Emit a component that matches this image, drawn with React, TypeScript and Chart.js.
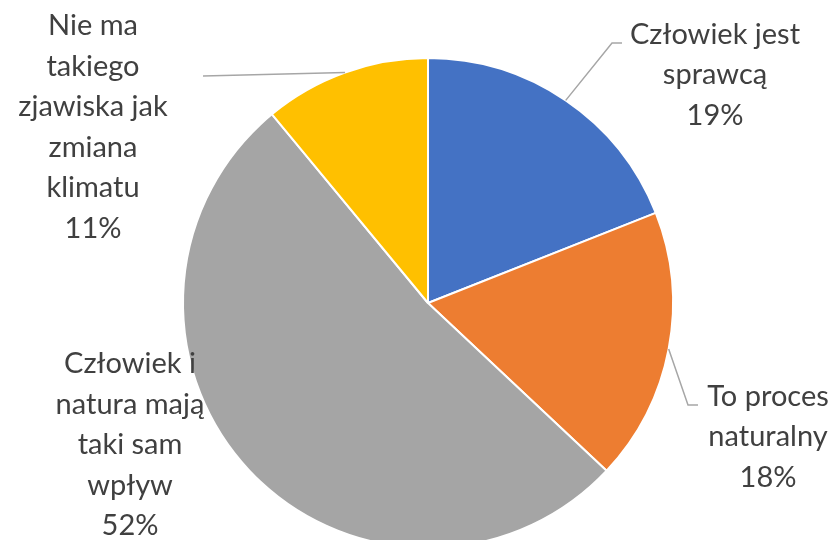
import React, { useEffect, useRef } from "react";
import { Chart, registerables } from "chart.js";

Chart.register(...registerables);

const categories = [
  "Człowiek jest sprawcą",
  "To proces naturalny",
  "Człowiek i natura mają taki sam wpływ",
  "Nie ma takiego zjawiska jak zmiana klimatu",
];
const values = [19, 18, 52, 11];
const percentLabels = ["19%", "18%", "52%", "11%"];
const wrappedLabels = [
  ["Człowiek jest", "sprawcą"],
  ["To proces", "naturalny"],
  ["Człowiek i", "natura mają", "taki sam", "wpływ"],
  ["Nie ma", "takiego", "zjawiska jak", "zmiana", "klimatu"],
];
const colors = ["#4472C4", "#ED7D31", "#A5A5A5", "#FFC000"];

// label layout relative to the pie centre (px)
const labelCenters = [
  [287, -228],
  [340, 134],
  [-298, 142],
  [-335, -176],
];
// leader lines: elbow and end points relative to pie centre; null = no line
const leaderPoints: (number[][] | null)[] = [
  [[184, -260], [194, -260]],
  [[260, 102], [270, 102]],
  null,
  [[-225, -227]],
];

const FONT = "29px Lato, 'Open Sans', sans-serif";
const LINE_H = 40.5;

const labelPlugin = {
  id: "excelLabels",
  afterDraw(chart: any) {
    const ctx = chart.ctx;
    const meta = chart.getDatasetMeta(0);
    ctx.save();
    meta.data.forEach((arc: any, i: number) => {
      const cx = arc.x;
      const cy = arc.y;
      const r = arc.outerRadius;
      const mid = (arc.startAngle + arc.endAngle) / 2;
      const pts = leaderPoints[i];
      if (pts) {
        ctx.beginPath();
        ctx.strokeStyle = "#A6A6A6";
        ctx.lineWidth = 1.5;
        ctx.moveTo(cx + r * Math.cos(mid), cy + r * Math.sin(mid));
        pts.forEach((p) => ctx.lineTo(cx + p[0], cy + p[1]));
        ctx.stroke();
      }
      const lines = [...wrappedLabels[i], percentLabels[i]];
      const lx = cx + labelCenters[i][0];
      const ly = cy + labelCenters[i][1];
      ctx.font = FONT;
      ctx.fillStyle = "#404040";
      ctx.textAlign = "center";
      ctx.textBaseline = "middle";
      const top = ly - ((lines.length - 1) * LINE_H) / 2;
      lines.forEach((t, k) => ctx.fillText(t, lx, top + k * LINE_H));
    });
    ctx.restore();
  },
};

export default function App() {
  const ref = useRef<HTMLCanvasElement>(null);
  useEffect(() => {
    if (!ref.current) return;
    const chart = new Chart(ref.current, {
      type: "pie",
      data: {
        labels: categories,
        datasets: [
          {
            data: values,
            backgroundColor: colors,
            borderColor: "#FFFFFF",
            borderWidth: 2,
          },
        ],
      },
      options: {
        responsive: false,
        animation: false,
        radius: 245,
        layout: { padding: { left: 183, right: 165, top: 58, bottom: 12 } },
        plugins: {
          legend: { display: false },
          tooltip: { enabled: false },
        },
      } as any,
      plugins: [labelPlugin],
    });
    return () => chart.destroy();
  }, []);
  return (
    <div
      style={{
        position: "fixed",
        left: 0,
        top: 0,
        width: 838,
        height: 540,
        overflow: "hidden",
        background: "#fff",
      }}
    >
      <canvas ref={ref} width={838} height={560} style={{ display: "block" }} />
    </div>
  );
}
